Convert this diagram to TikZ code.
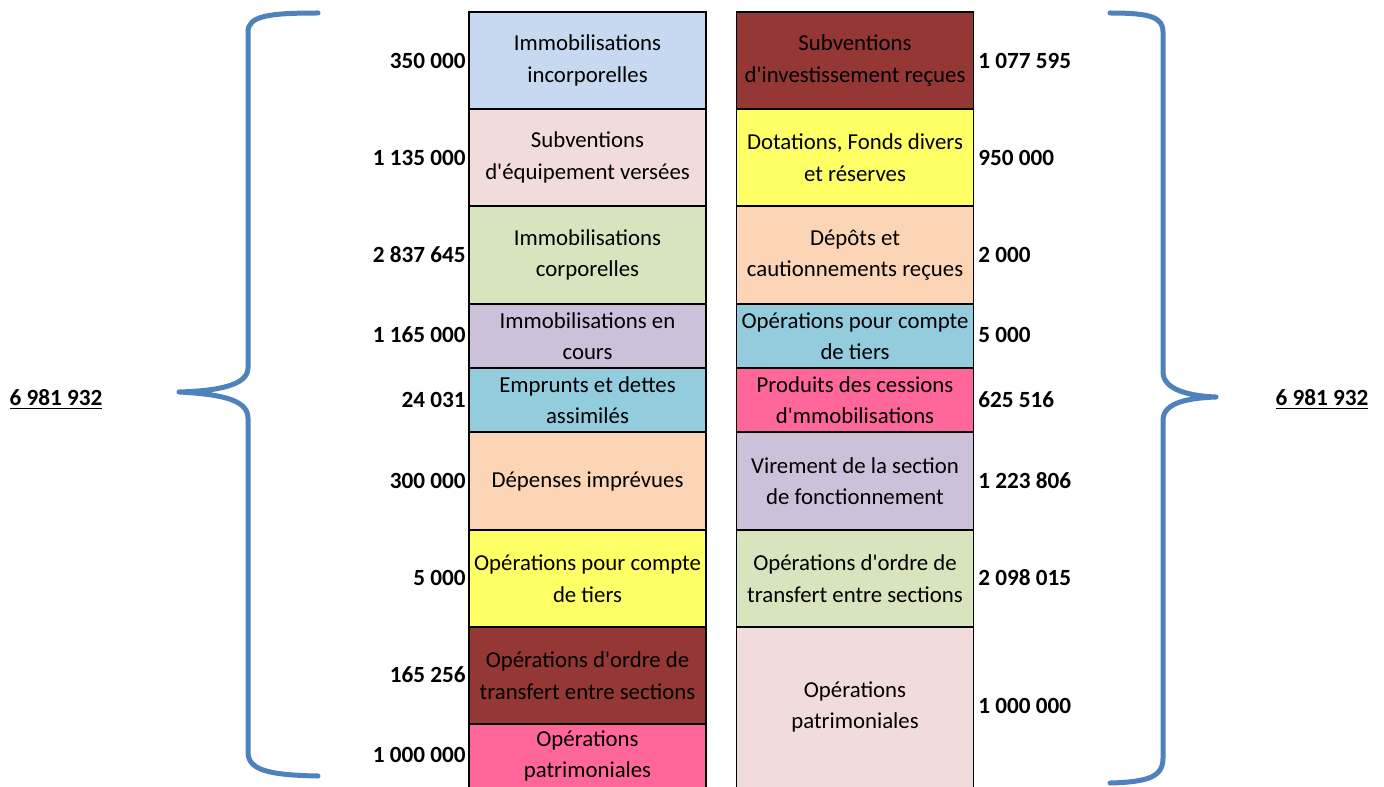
\documentclass[tikz,border=0pt]{standalone}
\usepackage{fontspec}
\setmainfont{Carlito}[Ligatures=TeXOff]
\definecolor{cBlueL}{HTML}{C6D9F1}
\definecolor{cPinkL}{HTML}{F2DCDB}
\definecolor{cGreenL}{HTML}{D7E4BD}
\definecolor{cViolet}{HTML}{CCC0DA}
\definecolor{cTeal}{HTML}{93CDDD}
\definecolor{cPeach}{HTML}{FBD5B5}
\definecolor{cYellow}{HTML}{FFFF66}
\definecolor{cBrown}{HTML}{953735}
\definecolor{cPink}{HTML}{FF6699}
\definecolor{cBrace}{HTML}{4F81BD}
\tikzset{
  acct/.style={draw=black, line width=0.9pt, minimum width=118.5pt, minimum height=#1*0.5pt,
    inner sep=0pt, outer sep=0pt, align=center, text=black,
    font=\fontsize{11.4pt}{15.8pt}\selectfont},
  numl/.style={anchor=east, inner sep=0pt, font=\fontsize{11.6pt}{14pt}\selectfont\bfseries},
  numr/.style={anchor=west, inner sep=0pt, font=\fontsize{11.6pt}{14pt}\selectfont\bfseries},
  total/.style={inner sep=0pt, font=\fontsize{11.6pt}{14pt}\selectfont\bfseries},
  bracepath/.style={draw=cBrace, line width=2.5pt, line cap=round, line join=round}
}
\begin{document}
\begin{tikzpicture}[x=0.5pt,y=-0.5pt]
\useasboundingbox (0,0) rectangle (1384,786);
\clip (0,0) rectangle (1384,786);
% left column
\node[acct=97, fill=cBlueL]  (l1) at (587.5,60.5)  {Immobilisations\\incorporelles};
\node[acct=97, fill=cPinkL]  (l2) at (587.5,157.5) {Subventions\\d'équipement versées};
\node[acct=98, fill=cGreenL] (l3) at (587.5,255)   {Immobilisations\\corporelles};
\node[acct=64, fill=cViolet] (l4) at (587.5,336)   {Immobilisations en\\cours};
\node[acct=64, fill=cTeal]   (l5) at (587.5,400)   {Emprunts et dettes\\assimilés};
\node[acct=98, fill=cPeach]  (l6) at (587.5,481)   {Dépenses imprévues};
\node[acct=97, fill=cYellow] (l7) at (587.5,578.5) {Opérations pour compte\\de tiers};
\node[acct=97, fill=cBrown]  (l8) at (587.5,675.5) {Opérations d'ordre de\\transfert entre sections};
\node[acct=128, fill=cPink]  (l9) at (587.5,788)   {};
\node at (587.5,756) [align=center, font=\fontsize{11.4pt}{15.8pt}\selectfont] (l9t) {Opérations\\patrimoniales};
% right column
\node[acct=97, fill=cBrown]  (r1) at (855,60.5)  {Subventions\\d'investissement reçues};
\node[acct=97, fill=cYellow] (r2) at (855,157.5) {Dotations, Fonds divers\\et réserves};
\node[acct=98, fill=cPeach]  (r3) at (855,255)   {Dépôts et\\cautionnements reçues};
\node[acct=64, fill=cTeal]   (r4) at (855,336)   {Opérations pour compte\\de tiers};
\node[acct=64, fill=cPink]   (r5) at (855,400)   {Produits des cessions\\d'mmobilisations};
\node[acct=98, fill=cViolet] (r6) at (855,481)   {Virement de la section\\de fonctionnement};
\node[acct=97, fill=cGreenL] (r7) at (855,578.5) {Opérations d'ordre de\\transfert entre sections};
\node[acct=170, fill=cPinkL] (r8) at (855,712)   {};
\node at (855,707) [align=center, font=\fontsize{11.4pt}{15.8pt}\selectfont] (r8t) {Opérations\\patrimoniales};
% left amounts
\node[numl] (n1) at (466,61)  {350 000};
\node[numl] (n2) at (466,158) {1 135 000};
\node[numl] (n3) at (466,255) {2 837 645};
\node[numl] (n4) at (466,335) {1 165 000};
\node[numl] (n5) at (466,400) {24 031};
\node[numl] (n6) at (466,481) {300 000};
\node[numl] (n7) at (466,578) {5 000};
\node[numl] (n8) at (466,675) {165 256};
\node[numl] (n9) at (466,755) {1 000 000};
% right amounts
\node[numr] (m1) at (978,61)  {1 077 595};
\node[numr] (m2) at (978,158) {950 000};
\node[numr] (m3) at (978,255) {2 000};
\node[numr] (m4) at (978,335) {5 000};
\node[numr] (m5) at (978,400) {625 516};
\node[numr] (m6) at (978,481) {1 223 806};
\node[numr] (m7) at (978,578) {2 098 015};
\node[numr] (m8) at (978,706) {1 000 000};
% totals
\node[total] (tl) at (56,400)   {\underline{6 981 932}};
\node[total] (tr) at (1322,400) {\underline{6 981 932}};
% braces
\draw[bracepath] (318,13) .. controls (268,13) and (248,16) .. (248,32) -- (248,368)
  .. controls (248,386) and (215,391) .. (179,392)
  .. controls (215,394) and (248,398) .. (248,418) -- (248,752)
  .. controls (248,770) and (268,775) .. (318,776);
\draw[bracepath] (1110,13) .. controls (1150,13) and (1163,17) .. (1163,32) -- (1163,372)
  .. controls (1163,390) and (1190,396) .. (1216,397)
  .. controls (1190,398) and (1163,402) .. (1163,420) -- (1163,758)
  .. controls (1163,776) and (1150,782) .. (1110,783);
\end{tikzpicture}
\end{document}
